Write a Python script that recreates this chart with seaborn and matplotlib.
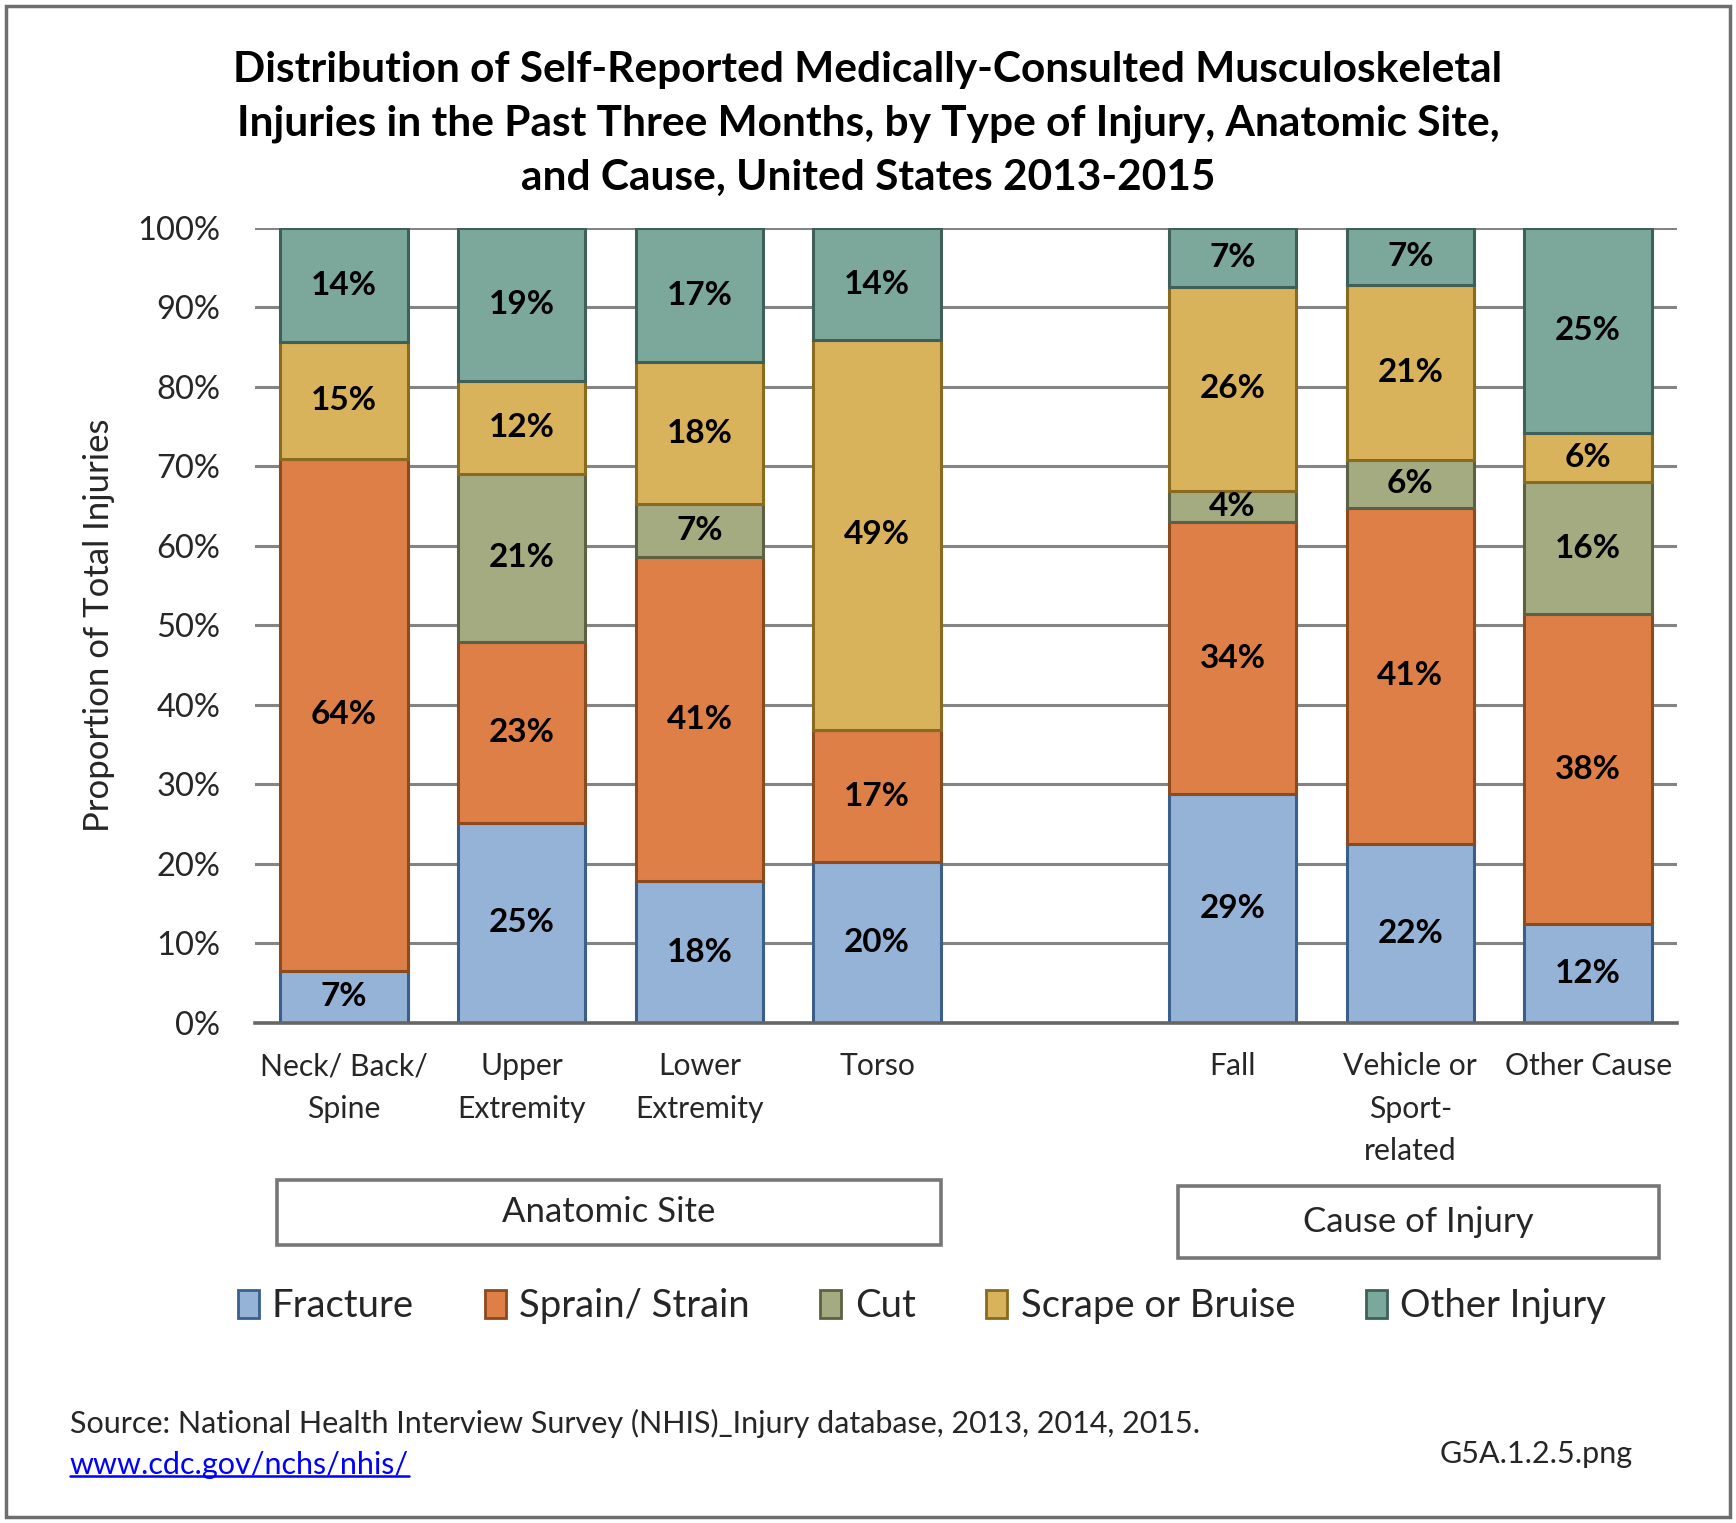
import numpy as np
import pandas as pd
import matplotlib
matplotlib.use("Agg")
import matplotlib.pyplot as plt
from matplotlib.patches import Patch, Rectangle
from matplotlib.lines import Line2D
import seaborn as sns

# categories (slot 4 is left empty between the two groups)
categories = ["Neck/ Back/\nSpine", "Upper\nExtremity", "Lower\nExtremity", "Torso",
              "Fall", "Vehicle or\nSport-\nrelated", "Other Cause"]
slots = [0, 1, 2, 3, 5, 6, 7]
injury_types = ["Fracture", "Sprain/ Strain", "Cut", "Scrape or Bruise", "Other Injury"]

# percent of injuries
fracture = [6.6, 25.2, 17.8, 20.2, 28.8, 22.0, 12.1]
sprain = [64.4, 22.7, 40.8, 16.7, 34.2, 41.2, 38.0]
cut = [0.0, 21.2, 6.7, 0.0, 3.9, 5.9, 16.3]
scrape = [14.6, 11.6, 17.8, 49.0, 25.7, 21.4, 6.0]
other = [14.4, 19.3, 16.9, 14.1, 7.4, 7.0, 25.1]

fills = ["#95B3D7", "#DE7F48", "#A5AB81", "#D9B25C", "#7CA89C"]
edges = ["#3A5F8B", "#8C4A1F", "#5C6144", "#8A6A1F", "#3F6058"]

sns.set_style("white")
plt.rcParams["font.family"] = ["Lato", "DejaVu Sans"]

df = pd.DataFrame(dict(zip(injury_types, [fracture, sprain, cut, scrape, other])), index=slots)
share = df.div(df.sum(axis=1), axis=0) * 100  # 100% stacked, like the original

fig = plt.figure(figsize=(17.36, 15.23), dpi=100)
ax = fig.add_axes([0.1469, 0.3283, 0.8191, 0.5220])

bottom = np.zeros(len(slots))
for i, name in enumerate(injury_types):
    vals = share[name].to_numpy()
    sns.barplot(x=slots, y=vals, native_scale=True, width=0.716, color=fills[i],
                edgecolor=edges[i], linewidth=2.2, saturation=1, errorbar=None,
                bottom=bottom, ax=ax)
    for x, b, v, raw in zip(slots, bottom, vals, df[name].to_numpy()):
        if raw > 0:
            ax.text(x, b + v / 2, f"{raw:.0f}%", ha="center", va="center",
                    fontsize=24, fontweight="bold", color="black")
    bottom = bottom + vals

ax.set_xlim(-0.5, 7.5)
ax.set_ylim(0, 100)
ax.set_yticks(range(0, 101, 10))
ax.set_yticklabels([f"{t}%" for t in range(0, 101, 10)], fontsize=23.5)
ax.set_xticks(slots)
ax.set_xticklabels(categories, fontsize=21.7, linespacing=1.63, va="top")
ax.tick_params(axis="y", length=0, pad=25)
ax.tick_params(axis="x", length=0, pad=21)
ax.yaxis.grid(True, color="#848484", linewidth=2.2)
ax.set_axisbelow(True)
for s in ["top", "left", "right"]:
    ax.spines[s].set_visible(False)
ax.spines["bottom"].set_color("#666666")
ax.spines["bottom"].set_linewidth(2.6)
ax.set_xlabel("")
ax.set_ylabel("Proportion of Total Injuries", fontsize=25, labelpad=16)

fig.text(0.5, 0.9185, "Distribution of Self-Reported Medically-Consulted Musculoskeletal\n"
         "Injuries in the Past Three Months, by Type of Injury, Anatomic Site,\n"
         "and Cause, United States 2013-2015",
         ha="center", va="center", fontsize=30.5, fontweight="bold", linespacing=1.5,
         color="black")

# group boxes
W, H = 1736, 1523
def group_box(x0, y0, x1, y1, label):
    fig.patches.append(Rectangle((x0 / W, 1 - y1 / H), (x1 - x0) / W, (y1 - y0) / H,
                                 transform=fig.transFigure, fill=False,
                                 edgecolor="#777777", linewidth=2.6))
    fig.text((x0 + x1) / 2 / W, 1 - (y0 + y1) / 2 / H, label, ha="center",
             va="center", fontsize=25)

group_box(277, 1180, 941, 1245, "Anatomic Site")
group_box(1178, 1186, 1659, 1258, "Cause of Injury")

handles = [Patch(facecolor=f, edgecolor=e, linewidth=2) for f, e in zip(fills, edges)]
fig.legend(handles, injury_types, loc="center", bbox_to_anchor=(0.531, 1 - 1306 / H),
           ncol=5, frameon=False, fontsize=27.5, handlelength=0.55, handleheight=0.75,
           handletextpad=0.35, columnspacing=1.85)

fig.text(70 / W, 1 - 1423 / H,
         "Source: National Health Interview Survey (NHIS)_Injury database, 2013, 2014, 2015.",
         ha="left", va="center", fontsize=22)
link = fig.text(70 / W, 1 - 1465 / H, "www.cdc.gov/nchs/nhis/", ha="left", va="center",
                fontsize=22, color="#0000FF")
fig.text(1633 / W, 1 - 1454 / H, "G5A.1.2.5.png", ha="right", va="center", fontsize=22)

# underline the link
fig.canvas.draw()
bb = link.get_window_extent().transformed(fig.transFigure.inverted())
fig.lines.append(Line2D([bb.x0, bb.x1], [bb.y0 + 0.002, bb.y0 + 0.002],
                        transform=fig.transFigure, color="#0000FF", linewidth=1.8))

# outer frame
fig.patches.append(Rectangle((6 / W, 6 / H), 1724 / W, 1511 / H, transform=fig.transFigure,
                             fill=False, edgecolor="#6E6E6E", linewidth=2.5))

fig.savefig("out.png", dpi=100)
